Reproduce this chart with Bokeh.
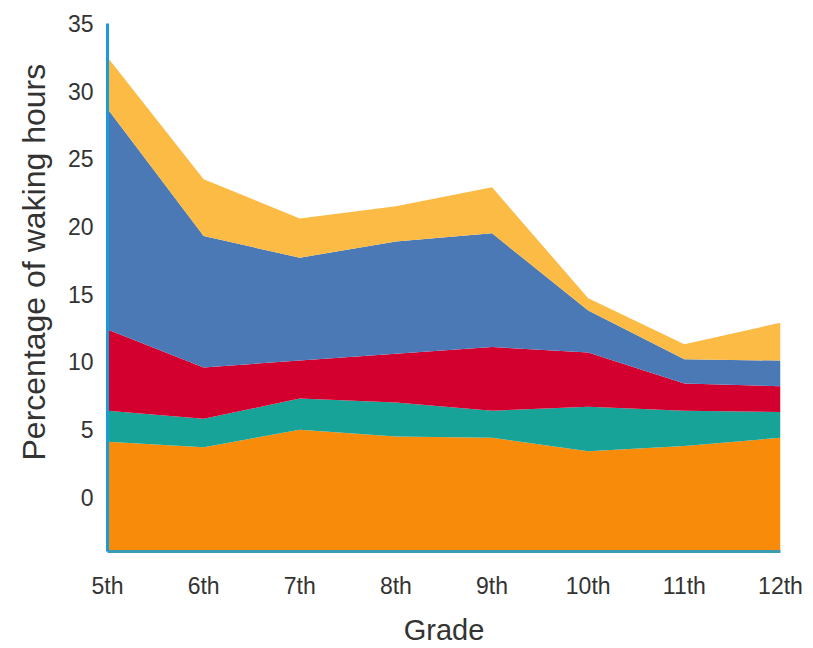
from bokeh.plotting import figure
from bokeh.models import FixedTicker, Title
from bokeh.embed import file_html
from bokeh.resources import INLINE

grades = ["5th", "6th", "7th", "8th", "9th", "10th", "11th", "12th"]
base_level = -4.0
# cumulative upper edges of each band
orange_top = [4.1, 3.7, 5.0, 4.5, 4.4, 3.4, 3.8, 4.4]
teal_top = [6.4, 5.8, 7.3, 7.0, 6.4, 6.7, 6.4, 6.3]
red_top = [12.4, 9.6, 10.1, 10.6, 11.1, 10.7, 8.4, 8.2]
blue_top = [28.7, 19.3, 17.7, 18.9, 19.5, 13.8, 10.2, 10.1]
yellow_top = [32.5, 23.5, 20.6, 21.5, 22.9, 14.7, 11.3, 12.9]
y_ticks = [0, 5, 10, 15, 20, 25, 30, 35]

colors = ["#F98B0A", "#17A398", "#D3002F", "#4A79B6", "#FCBB45"]

x = list(range(len(grades)))

W, H = 813, 648
p = figure(width=W, height=H, output_backend="svg", toolbar_location=None,
           x_range=(0, len(grades) - 1), y_range=(base_level, 35),
           min_border_left=107, min_border_right=W - 780, min_border_top=23,
           min_border_bottom=H - 551)

bands = [orange_top, teal_top, red_top, blue_top, yellow_top]
lower = [base_level] * len(grades)
for top, c in zip(bands, colors):
    p.varea(x=x, y1=lower, y2=top, fill_color=c)
    lower = top

p.outline_line_color = None
p.xgrid.visible = False
p.ygrid.visible = False
p.background_fill_color = "white"

font = "Liberation Sans"

p.xaxis.ticker = FixedTicker(ticks=x)
p.xaxis.major_label_overrides = {i: g for i, g in enumerate(grades)}
p.yaxis.ticker = FixedTicker(ticks=y_ticks)

for ax in (p.xaxis, p.yaxis):
    ax.major_tick_line_color = None
    ax.minor_tick_line_color = None
    ax.major_tick_out = 0
    ax.major_tick_in = 0
    ax.major_label_text_font = font
    ax.major_label_text_font_size = "23px"
    ax.major_label_text_color = "#333333"
    ax.axis_label_text_font = font
    ax.axis_label_text_font_style = "normal"
    ax.axis_label_text_color = "#333333"
    ax.axis_line_width = 3

p.xaxis.axis_line_color = "#3A9BB3"
p.yaxis.axis_line_color = "#1C9AD6"

p.xaxis.axis_label = "Grade"
p.xaxis.axis_label_text_font_size = "29px"
p.xaxis.major_label_standoff = 21
p.xaxis.axis_label_standoff = 12

p.yaxis.major_label_standoff = 14

ytitle = Title(text="Percentage of waking hours", align="left", offset=91,
               standoff=25, text_font=font, text_font_size="32px",
               text_font_style="normal", text_color="#333333")
p.add_layout(ytitle, "left")

open("out.html", "w").write(file_html(p, INLINE))
